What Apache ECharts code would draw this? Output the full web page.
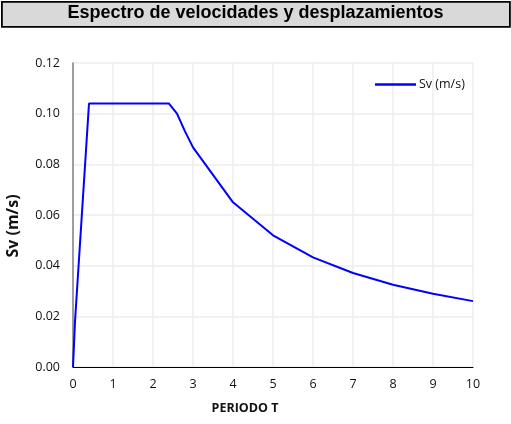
<!DOCTYPE html>
<html><head><meta charset="utf-8">
<script src="https://cdn.jsdelivr.net/npm/echarts@6/dist/echarts.min.js"></script>
<style>html,body{margin:0;padding:0;background:#fff}#c{width:511px;height:424px}</style>
</head><body><div id="c"></div>
<script>
const periods = [0, 0.05, 0.4, 2.4, 2.6, 2.8, 3, 4, 5, 6, 7, 8, 9, 10];
const svValues = [0, 0.018, 0.104, 0.104, 0.100, 0.093, 0.0867, 0.065, 0.052, 0.0433, 0.0371, 0.0325, 0.0289, 0.026];
const seriesName = 'Sv (m/s)';
const titleText = 'Espectro de velocidades y desplazamientos';
const xTitle = 'PERIODO T';
const yTitle = 'Sv (m/s)';

const chart = echarts.init(document.getElementById('c'), null, {renderer: 'canvas'});
const font = '"Open Sans", "Liberation Sans", sans-serif';
chart.setOption({
  animation: false,
  backgroundColor: '#fff',
  grid: {left: 73, right: 38, top: 63, bottom: 57},
  xAxis: {
    type: 'value', min: 0, max: 10, interval: 1,
    axisLine: {show: true, lineStyle: {color: '#000', width: 1}},
    axisTick: {show: false},
    splitLine: {show: true, lineStyle: {color: '#ececec', width: 1.5}},
    axisLabel: {color: '#111', fontSize: 12.5, fontFamily: font, margin: 11}
  },
  yAxis: {
    type: 'value', min: 0, max: 0.12, interval: 0.02,
    axisLine: {show: true, lineStyle: {color: '#808080', width: 1.5}},
    axisTick: {show: false},
    splitLine: {show: true, lineStyle: {color: '#ececec', width: 1.5}},
    axisLabel: {color: '#111', fontSize: 12.5, fontFamily: font, margin: 13,
      formatter: v => v.toFixed(2)}
  },
  legend: {
    left: 370, top: 73, itemWidth: 41, itemHeight: 2.5, itemGap: 5,
    icon: 'rect',
    textStyle: {color: '#111', fontSize: 12.5, fontFamily: font, padding: [0,0,0,-2]},
    data: [{name: seriesName, icon: 'rect'}]
  },
  series: [{
    name: seriesName, type: 'line', showSymbol: false, symbol: 'none',
    lineStyle: {color: '#0000ff', width: 2}, itemStyle: {color: '#0000ff'},
    data: periods.map((t, i) => [t, svValues[i]])
  }],
  graphic: [
    {type: 'rect', left: 1, top: 1, shape: {width: 508, height: 25},
     style: {fill: '#d9d9d9', stroke: '#000', lineWidth: 1.8}},
    {type: 'text', left: 'center', top: 4,
     style: {text: titleText, font: 'bold 18px "Liberation Sans", Arial, sans-serif', fill: '#000'}},
    {type: 'text', x: 245, y: 408,
     style: {text: xTitle, font: 'bold 12.5px ' + font, fill: '#111', align: 'center', verticalAlign: 'middle'}},
    {type: 'text', x: 13, y: 226, rotation: Math.PI / 2,
     style: {text: yTitle, font: 'bold 16px ' + font, fill: '#111', align: 'center', verticalAlign: 'middle'}}
  ]
});
</script></body></html>
